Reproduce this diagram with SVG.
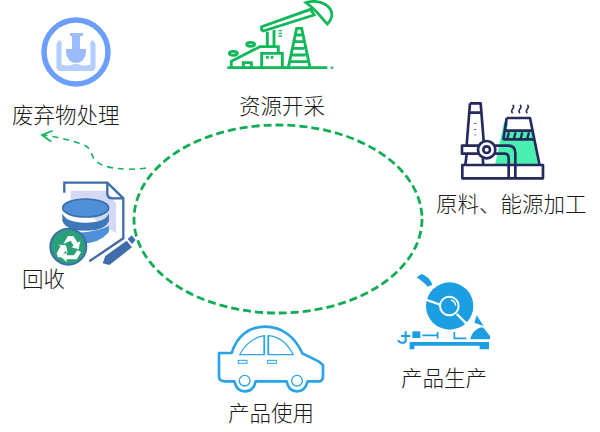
<svg xmlns="http://www.w3.org/2000/svg" width="600" height="432" viewBox="0 0 600 432">
<style>
.t{font-family:"Noto Sans CJK SC","Noto Sans CJK JP",sans-serif;font-size:21.5px;font-weight:300;fill:#1a1a1a}
.g{fill:none;stroke:#0fb858;stroke-width:8.5}
.n{fill:none;stroke:#252a5e;stroke-width:8;stroke-linejoin:round}
.b{fill:none;stroke:#3f6cab;stroke-width:7}
.c{fill:none;stroke:#2ba3e6;stroke-width:8;stroke-linejoin:round}
.s{fill:#1b9ee2}
</style>
<defs>
<marker id="ah" markerWidth="14" markerHeight="14" refX="12" refY="6" orient="auto" markerUnits="userSpaceOnUse"><path d="M2 0.5L12 6L2 11.5" fill="none" stroke="#0fb858" stroke-width="1.8"/></marker>
</defs>
<rect width="600" height="432" fill="#fff"/>
<g id="connectors">
<ellipse id="cycle" cx="278" cy="219" rx="144" ry="94" fill="none" stroke="#11ad55" stroke-width="2.8" stroke-dasharray="8 4"/>
<path id="waste-arrow" d="M146 168C125 171 104 168 97 162C91 158 93 151 86 146C75 141 58 137 42 135" fill="none" stroke="#11b45a" stroke-width="1.6" stroke-dasharray="6 5" marker-end="url(#ah)"/>
</g>
<g id="waste">
<circle cx="76" cy="52" r="32" fill="#fff" stroke="#6c9eff" stroke-width="5.5"/>
<path d="M61 42a4 4 0 0 0-2 3V67q8 3 12 1t10 0t12-1V45a4 4 0 0 0-2-3" fill="none" stroke="#b3ceff" stroke-width="5"/>
<path d="M58 63q8 4 13 2t10 0t13-2v8H58z" fill="#b3ceff"/>
<path d="M70 33h13v3h-3v13h6v3a10 11 0 0 1-20 0v-3h6V36h-2z" fill="#9abcff"/>
<text class="t" x="12" y="123">废弃物处理</text>
</g>
<g id="mining">
<g transform="translate(210 0) scale(.3333)">
<path class="g" d="M52 203H352"/><path d="M362 203h8" stroke="#0fb858" stroke-width="6"/>
<path class="g" d="M64 203V184L150 140H205V158"/>
<path class="g" d="M155 203V160H217V203"/>
<path class="g" d="M100 203V188H124V203"/>
<path class="g" d="M168 172h8M182 172h8"/>
<ellipse class="g" cx="70" cy="160" rx="12" ry="6"/><ellipse class="g" cx="122" cy="133" rx="12" ry="6"/>
<path class="g" d="M172 140V95M192 140V90"/>
<path class="g" d="M155 90V80L302 28L312 45L160 93Z"/>
<path class="g" d="M288 8C310 0 340 5 355 20C370 35 368 55 352 72C335 55 320 30 288 8Z"/>
<path class="g" d="M235 203L260 85H275L300 203M258 105h18M253 125h27M250 145h33M245 165h42M240 185h52"/>
<path d="M206 92h10M206 100h10M206 108h10" stroke="#0fb858" stroke-width="4"/>
</g>
<text class="t" x="239" y="114">资源开采</text>
</g>
<g id="processing">
<g transform="translate(440 90) scale(.3333)">
<path d="M192 97H205L200 122H275L296 235H163Z" fill="#4af0b0"/>
<path d="M72 225H305V262H72Z" fill="#fff"/>
<path d="M88 40H122L132 165H78Z" fill="#fff"/>
<path class="n" d="M67 225H309V265H67Z"/>
<path class="n" d="M90 40H122L132 165M90 40L80 165M86 68H126"/>
<path class="n" d="M76 225L80 192M130 225L128 205"/>
<path class="n" d="M66 167H118V191H66ZM165 167H205Q226 167 226 190V262M165 191H195Q206 191 206 205V262"/>
<circle cx="140" cy="179" r="26" fill="#fff" stroke="#252a5e" stroke-width="8"/><circle class="n" cx="140" cy="179" r="10"/>
<path d="M106 100v2M106 117v2M106 134v2" stroke="#252a5e" stroke-width="7"/>
<path class="n" d="M200 84H270L298 222M200 84L190 150"/>
<path class="n" d="M192 122H280M190 148H285"/>
<path d="M207 127L202 145M227 127L222 145M247 127L242 145M267 127L262 145" stroke="#252a5e" stroke-width="7"/>
<path d="M218 45q6 5 0 12t0 12M240 45q6 5 0 12t0 12M262 45q6 5 0 12t0 12" fill="none" stroke="#252a5e" stroke-width="5"/>
</g>
<text class="t" x="436" y="212">原料、能源加工</text>
</g>
<g id="recycling">
<g transform="translate(30 170) scale(.3333)">
<path d="M122 62H228L258 100V190L210 160L122 90Z" fill="#d3d8f5"/>
<path class="b" d="M103 68V38H232L280 85V205L178 274"/>
<path class="b" d="M232 38V72Q232 85 250 85H280"/>
<path d="M97 130q10 28 70 28t70-28v22q-10 30-70 30t-70-30z" fill="#3f78b8"/>
<path d="M130 186q50 6 107-18v18q-30 36-85 34z" fill="#4e90d8"/>
<ellipse cx="167" cy="114" rx="69" ry="27" fill="#4e90d8" stroke="#3f6cab" stroke-width="5"/>
<circle cx="115" cy="230" r="54" fill="#2aa07a" stroke="#3f6cab" stroke-width="6"/>
<g fill="#fff">
<path d="M100 222L114 198H130L143 218L151 213L146 238L124 232L131 227L122 212Z"/>
<path d="M84 262L80 250L92 228L84 224L108 226L113 248L106 243L95 262Z"/>
<path d="M110 268H140L153 247L142 240L132 256H110V247L92 260L110 276Z"/>
</g>
<path d="M218 280L226 258L290 212L306 232L238 285Z" fill="#3f6cab"/>
<path d="M293 207L305 196L317 210L306 222Z" fill="#3f6cab"/>
</g>
<text class="t" x="22" y="287">回收</text>
</g>
<g id="production">
<g transform="translate(385 270) scale(.3333)">
<path class="s" d="M95 22L110 12C128 20 138 30 142 44L128 50C118 38 106 30 95 22Z"/>
<circle class="s" cx="194" cy="108" r="71"/>
<path d="M120 88L168 105M215 132L256 172" stroke="#fff" stroke-width="7"/>
<circle cx="193" cy="108" r="28" fill="#1b9ee2" stroke="#fff" stroke-width="6"/>
<path d="M198 90a19 19 0 0 1 14 17" fill="none" stroke="#fff" stroke-width="4"/>
<path class="s" d="M268 158L275 136L296 168ZM256 208C260 185 280 172 294 172L315 198V208Z"/>
<path class="s" d="M74 216H312V238H284V227H88V238H74Z"/>
<rect class="s" x="82" y="184" width="24" height="20"/>
<path d="M112 196H158M158 186V206M208 186V205H244" fill="none" stroke="#1b9ee2" stroke-width="5"/>
<path d="M48 198H76M62 184V212Q60 220 48 218Q40 215 40 210" fill="none" stroke="#1b9ee2" stroke-width="6"/>
</g>
<text class="t" x="401" y="386">产品生产</text>
</g>
<g id="use">
<g transform="translate(205 320) scale(.3333)">
<path class="c" d="M80 99H42V172Q44 184 60 184H88Q95 214 120 214Q146 214 152 184H245Q250 214 276 214Q300 214 308 184H345Q354 180 354 170V135L342 125L292 100C270 50 230 20 180 20C130 20 95 50 80 99Z"/>
<path d="M104 104C120 75 145 52 178 47V104ZM190 47C225 50 250 75 265 104H190Z" fill="none" stroke="#2ba3e6" stroke-width="3.5"/>
<path d="M178 47V104M190 47V104" stroke="#2ba3e6" stroke-width="5"/>
<rect x="100" y="121" width="26" height="9" fill="none" stroke="#2ba3e6" stroke-width="3"/>
<rect x="188" y="121" width="26" height="9" fill="none" stroke="#2ba3e6" stroke-width="3"/>
<circle cx="119" cy="182" r="16" fill="none" stroke="#2ba3e6" stroke-width="4"/>
<circle cx="276" cy="182" r="16" fill="none" stroke="#2ba3e6" stroke-width="4"/>
</g>
<text class="t" x="228" y="421">产品使用</text>
</g>
</svg>
